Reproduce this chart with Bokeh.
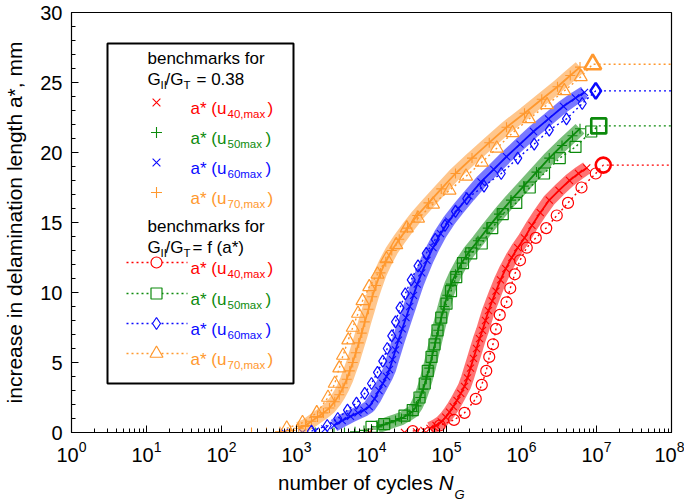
import numpy as np
from bokeh.plotting import figure
from bokeh.models import Label, BoxAnnotation, SingleIntervalTicker, Div
from bokeh.layouts import column
from bokeh.embed import file_html
from bokeh.resources import INLINE

# ---------------- data ----------------
# benchmarks for G_II/G_T = 0.38 (dense series): log10(N_G) and a* [mm]
logN_40_const = [3.97, 4.44, 4.60, 4.70, 4.78, 4.86, 4.93, 4.99, 5.04, 5.09, 5.14, 5.19, 5.24, 5.28, 5.32,
                 5.36, 5.40, 5.44, 5.48, 5.52, 5.56, 5.61, 5.66, 5.72, 5.79, 5.87, 5.95, 6.04, 6.14, 6.25,
                 6.37, 6.50, 6.64, 6.76, 6.87]
a_40_const = [0.0, 0.0, 0.05, 0.15, 0.3, 0.5, 0.75, 1.1, 1.45, 1.85, 2.3, 2.8, 3.3, 3.9, 4.6,
              5.3, 6.0, 6.7, 7.3, 8.0, 8.7, 9.4, 10.1, 10.9, 11.7, 12.5, 13.2, 13.9, 14.8, 15.7,
              16.6, 17.3, 18.0, 18.5, 18.9]

logN_50_const = [3.25, 3.50, 3.64, 3.78, 3.90, 4.00, 4.08, 4.16, 4.24, 4.32, 4.40, 4.48, 4.55, 4.60, 4.65,
                 4.69, 4.73, 4.77, 4.81, 4.85, 4.89, 4.93, 4.97, 5.01, 5.06, 5.12, 5.20, 5.30, 5.42, 5.55,
                 5.70, 5.86, 6.03, 6.20, 6.37, 6.54, 6.68, 6.78]
a_50_const = [0.0, 0.0, 0.0, 0.05, 0.15, 0.25, 0.4, 0.55, 0.7, 0.85, 1.0, 1.25, 1.5, 1.9, 2.5,
              3.1, 3.8, 4.6, 5.5, 6.4, 7.3, 8.2, 9.0, 9.8, 10.6, 11.3, 12.1, 12.9, 13.7, 14.6,
              15.6, 16.6, 17.6, 18.6, 19.6, 20.5, 21.2, 21.7]

logN_60_const = [2.84, 3.08, 3.25, 3.38, 3.50, 3.61, 3.72, 3.82, 3.90, 3.97, 4.04, 4.10, 4.15, 4.20, 4.24,
                 4.28, 4.32, 4.36, 4.41, 4.46, 4.51, 4.56, 4.61, 4.67, 4.74, 4.82, 4.92, 5.03, 5.16, 5.30,
                 5.46, 5.63, 5.80, 5.98, 6.16, 6.36, 6.56, 6.72, 6.84]
a_60_const = [0.0, 0.0, 0.1, 0.25, 0.5, 0.85, 1.15, 1.4, 1.6, 1.85, 2.4, 3.0, 3.5, 4.0, 4.5,
              5.2, 5.9, 6.6, 7.4, 8.2, 9.0, 9.8, 10.6, 11.4, 12.3, 13.2, 14.2, 15.1, 16.0, 16.9,
              17.9, 18.8, 19.7, 20.6, 21.5, 22.4, 23.3, 23.9, 24.3]

logN_70_const = [2.40, 2.60, 2.78, 2.92, 3.03, 3.12, 3.20, 3.28, 3.36, 3.44, 3.51, 3.57, 3.62, 3.67, 3.71,
                 3.75, 3.79, 3.83, 3.87, 3.91, 3.96, 4.01, 4.06, 4.12, 4.19, 4.27, 4.37, 4.48, 4.61, 4.76,
                 4.93, 5.12, 5.34, 5.57, 5.80, 6.04, 6.27, 6.48, 6.65, 6.78]
a_70_const = [0.0, 0.0, 0.05, 0.15, 0.3, 0.5, 0.8, 1.1, 1.4, 1.75, 2.2, 2.7, 3.2, 3.8, 4.4,
              5.0, 5.7, 6.4, 7.1, 7.9, 8.8, 9.7, 10.5, 11.4, 12.2, 13.0, 13.8, 14.6, 15.5, 16.4,
              17.4, 18.5, 19.6, 20.7, 21.8, 22.8, 23.8, 24.7, 25.5, 26.1]

# benchmarks for G_II/G_T = f(a*) (sparse series)
logN_40_var = [4.55, 4.91, 5.10, 5.24, 5.39, 5.47, 5.53, 5.57, 5.62, 5.66, 5.71, 5.80, 5.85, 5.91, 5.98,
               6.07, 6.19, 6.33, 6.47, 6.62, 6.80, 6.99, 7.09]
a_40_var = [0.1, 0.5, 0.9, 1.4, 2.4, 3.4, 4.4, 5.4, 6.3, 7.4, 8.4, 9.3, 10.3, 11.3, 12.3,
            13.2, 13.9, 14.6, 15.5, 16.4, 17.5, 18.5, 19.1]

logN_50_var = [4.00, 4.17, 4.44, 4.55, 4.64, 4.71, 4.75, 4.80, 4.84, 4.88, 4.93, 5.00, 5.06, 5.13, 5.22,
               5.33, 5.47, 5.61, 5.75, 5.93, 6.11, 6.30, 6.51, 6.72, 6.93, 7.03]
a_50_var = [0.4, 0.6, 1.2, 1.6, 2.5, 3.5, 4.4, 5.4, 6.3, 7.3, 8.2, 9.2, 10.1, 11.1, 12.1,
            12.8, 13.5, 14.6, 15.6, 16.4, 17.5, 18.5, 19.6, 20.4, 21.5, 21.9]

logN_60_var = [3.20, 3.41, 3.55, 3.68, 3.80, 3.91, 4.00, 4.08, 4.15, 4.21, 4.27, 4.32, 4.38, 4.45, 4.53,
               4.62, 4.73, 4.85, 4.98, 5.12, 5.27, 5.50, 5.73, 5.95, 6.17, 6.37, 6.60, 6.81, 6.99]
a_60_var = [0.1, 0.5, 1.0, 1.6, 2.1, 2.8, 3.5, 4.3, 5.1, 6.0, 6.9, 7.9, 8.9, 9.9, 10.9,
            11.9, 12.8, 13.8, 14.8, 15.8, 16.7, 17.6, 18.5, 19.6, 20.6, 21.6, 22.4, 23.5, 24.4]

logN_70_var = [2.87, 3.08, 3.27, 3.42, 3.51, 3.57, 3.62, 3.69, 3.75, 3.82, 3.88, 3.97, 4.08, 4.20, 4.33,
               4.47, 4.62, 4.82, 5.04, 5.26, 5.47, 5.67, 5.88, 6.10, 6.34, 6.57, 6.79, 6.95]
a_70_var = [0.3, 0.7, 1.4, 2.5, 3.5, 4.6, 5.5, 6.6, 7.5, 8.5, 9.4, 10.4, 11.3, 12.4, 13.4,
            14.6, 15.3, 16.3, 17.3, 18.3, 19.3, 20.3, 21.4, 22.4, 23.4, 24.4, 25.4, 26.3]

series_subscripts = ["40,max", "50max", "60max", "70,max"]
heading_1 = "benchmarks for"
ratio_const_text = "= 0.38"
ratio_var_text = "= f (a*)"
y_label = "increase in delamination length a*, mm"
x_label = "number of cycles"

# ---------------- styling ----------------
RED, GREEN, BLUE, ORANGE = "#ff0000", "#0c8a0c", "#0a0aff", "#ff982e"
FONT = "Liberation Sans"
X_MIN, X_MAX = 1.0, 1e8
Y_MIN, Y_MAX = 0.0, 30.0

OX, OY = 8, 0            # where the canvas lands on the page
W, H, DIV_H = 677, 464, 32
# frame geometry in page pixels (used to position legend decorations)
FL, FR, FT, FB = 72, 672, 12, 432


def dx(px):
    return 10 ** ((px - FL) / (FR - FL) * np.log10(X_MAX / X_MIN))


def dy(py):
    return (FB - py) * (Y_MAX - Y_MIN) / (FB - FT)


p = figure(frame_width=FR - FL, frame_height=FB - FT, width=W, height=H,
           x_axis_type="log", x_range=(X_MIN, X_MAX), y_range=(Y_MIN, Y_MAX),
           output_backend="svg", toolbar_location=None,
           min_border_left=FL - OX, min_border_right=W - (FR - OX), min_border_top=FT - OY,
           min_border_bottom=H - (FB - OY))
p.xgrid.visible = False
p.ygrid.visible = False
p.outline_line_color = "black"
p.outline_line_width = 1.2
p.background_fill_color = "white"
p.border_fill_color = "white"

for ax in (p.xaxis[0], p.yaxis[0]):
    ax.major_tick_in = 7
    ax.major_tick_out = 0
    ax.minor_tick_in = 4
    ax.minor_tick_out = 0
    ax.axis_line_color = "black"
    ax.major_tick_line_color = "black"
    ax.minor_tick_line_color = "black"
    ax.major_label_text_font = FONT
    ax.major_label_text_font_size = "20px"
    ax.major_label_text_color = "black"
    ax.axis_label_text_font = FONT
    ax.axis_label_text_font_style = "normal"
    ax.axis_label_text_font_size = "21px"
    ax.axis_label_text_color = "black"

p.yaxis[0].ticker = SingleIntervalTicker(interval=5, num_minor_ticks=5)
p.yaxis[0].axis_label = y_label
p.yaxis[0].major_label_standoff = 9
p.yaxis[0].axis_label_standoff = 11
p.xaxis[0].major_label_standoff = 8


def dense(logN, a, color, marker):
    N = 10 ** np.array(logN)
    a = np.array(a)
    m = a >= 0.3
    p.line(N[m], a[m], line_color=color, line_width=13, line_alpha=0.55)
    p.line(N[m], a[m], line_color=color, line_width=1.8)
    p.scatter(N, a, marker=marker, size=10, line_color=color, line_width=1.1)


def sparse(logN, a, color, marker, size):
    N = 10 ** np.array(logN)
    a = np.array(a)
    p.line(list(N) + [X_MAX], list(a) + [a[-1]], line_color=color, line_width=1.4, line_dash="2 3")
    p.scatter(N[:-1], a[:-1], marker=marker, size=size, fill_color=None,
              line_color=color, line_width=1.2)
    p.scatter(N[-1:], a[-1:], marker=marker, size=size + 4, fill_color=None,
              line_color=color, line_width=2.6)


dense(logN_40_const, a_40_const, RED, "x")
dense(logN_50_const, a_50_const, GREEN, "cross")
dense(logN_60_const, a_60_const, BLUE, "x")
dense(logN_70_const, a_70_const, ORANGE, "cross")

sparse(logN_40_var, a_40_var, RED, "circle", 11)
sparse(logN_50_var, a_50_var, GREEN, "square", 11)
sparse(logN_60_var, a_60_var, BLUE, "diamond", 12)
sparse(logN_70_var, a_70_var, ORANGE, "triangle", 13)

# ---------------- legend (drawn by hand, page pixel layout) ----------------
p.add_layout(BoxAnnotation(left=dx(108), right=dx(294), top=dy(43), bottom=dy(383),
                           fill_color="white", fill_alpha=1.0, line_color="black",
                           line_alpha=1.0, line_width=2, level="underlay"))


def txt(px, py, s, color="black", size="17px", style="normal"):
    p.add_layout(Label(x=dx(px), y=dy(py), text=s, text_color=color, text_font=FONT,
                       text_font_size=size, text_font_style=style,
                       text_baseline="alphabetic", text_align="left"))


def ratio_heading(base_py, rest, rest_px):
    txt(148, base_py, "G")
    txt(161, base_py + 5, "II", size="11.5px")
    txt(166, base_py, "/G")
    txt(184, base_py + 5, "T", size="11.5px")
    txt(rest_px, base_py, rest)


txt(148, 58, heading_1)
ratio_heading(79, ratio_const_text, 197)
txt(148, 226, heading_1)
ratio_heading(247, ratio_var_text, 193)

const_rows = [(102, RED, "x"), (132, GREEN, "cross"), (162, BLUE, "x"), (192, ORANGE, "cross")]
var_rows = [(262, RED, "circle", 11), (293, GREEN, "square", 11), (323, BLUE, "diamond", 12),
            (353, ORANGE, "triangle", 13)]

for (py, color, marker), sub in zip(const_rows, series_subscripts):
    p.scatter([dx(157)], [dy(py)], marker=marker, size=11, line_color=color, line_width=1.1)
    txt(191, py + 6, "a* (u", color)
    txt(228, py + 11, sub, color, size="11.5px")
    txt(268 if "," in sub else 266, py + 6, ")", color)

for (py, color, marker, size), sub in zip(var_rows, series_subscripts):
    p.line([dx(127), dx(188)], [dy(py), dy(py)], line_color=color, line_width=1.4, line_dash="2 3")
    p.scatter([dx(157)], [dy(py)], marker=marker, size=size, fill_color="white",
              line_color=color, line_width=1.2)
    txt(191, py + 6, "a* (u", color)
    txt(228, py + 11, sub, color, size="11.5px")
    txt(268 if "," in sub else 266, py + 6, ")", color)

# x-axis title (italic N with subscript G) set below the plot
xlab = Div(text=(f'<div style="padding-left:278px; padding-top:7px; font-family:\'{FONT}\'; '
                 f'font-size:20.5px; line-height:24px; color:black; white-space:nowrap">{x_label} '
                 f'<i>N</i><span style="font-size:13px; font-style:italic; position:relative; '
                 f'top:9px; left:1px">G</span></div>'),
           width=W, height=DIV_H, margin=(0, 0, 0, 0))

layout = column(p, xlab, spacing=0)
open("out.html", "w").write(file_html(layout, INLINE))
